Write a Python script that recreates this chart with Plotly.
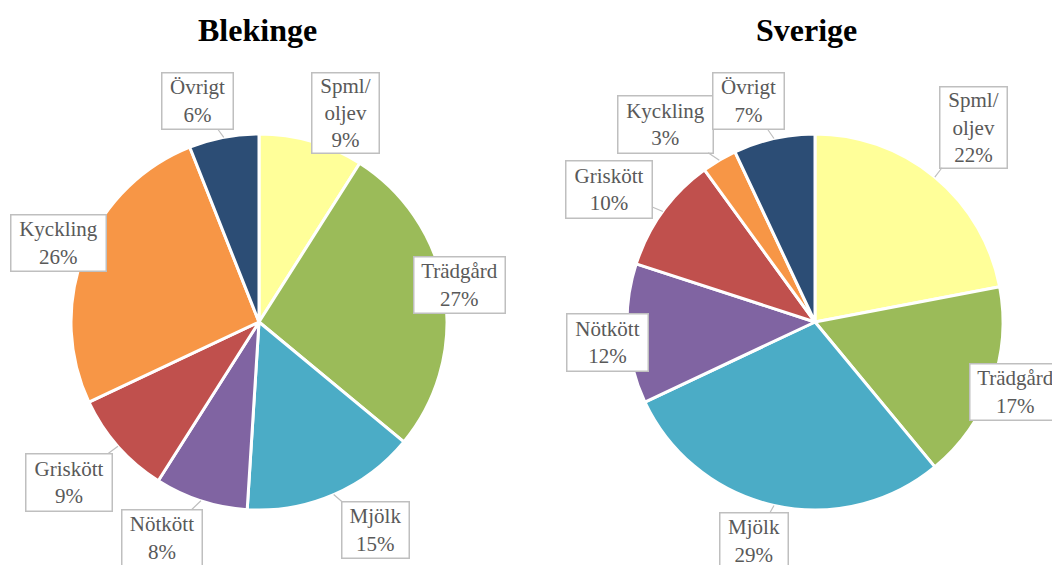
import math
import plotly.graph_objects as go

# ---------------- data ----------------
categories = ["Spml/<br>oljev", "Trädgård", "Mjölk", "Nötkött", "Griskött", "Kyckling", "Övrigt"]
blekinge = [9, 27, 15, 8, 9, 26, 6]
sverige = [22, 17, 29, 12, 10, 3, 7]
titles = ["Blekinge", "Sverige"]

# ---------------- styling / layout ----------------
colors = ["#FFFF99", "#9BBB59", "#4BACC6", "#8064A2", "#C0504D", "#F79646", "#2C4D75"]
W, H = 1052, 565
R = 188
centers = [(259, 322), (815, 322)]
title_pos = [(257, 30), (806, 30)]

# label box centres (px), box sizes (px), whether a leader line is drawn
label_boxes = [
    [(345, 113), (459, 285), (375, 530), (162, 538), (69, 482), (58, 243), (197, 101)],
    [(973, 127), (1015, 392), (754, 541), (607, 342), (609, 189), (665, 124), (748, 101)],
]
box_sizes = [
    [(68, 81), (92, 57), (68, 57), (81, 57), (87, 58), (96, 57), (72, 57)],
    [(68, 82), (92, 57), (69, 57), (82, 58), (87, 58), (96, 58), (72, 57)],
]
leaders = [
    [False, False, True, True, True, False, True],
    [True, False, True, False, True, True, True],
]

FONT = "Liberation Serif, Times New Roman, serif"
TXT = "#595959"
BORDER = "#BFBFBF"


def px(x):
    return x / W


def py(y):
    return 1 - y / H


fig = go.Figure()
annotations = []
for k, values in enumerate([blekinge, sverige]):
    cx, cy = centers[k]
    fig.add_trace(go.Pie(
        labels=[c.replace("<br>", "") for c in categories],
        values=values,
        sort=False,
        direction="clockwise",
        rotation=0,
        marker=dict(colors=colors, line=dict(color="white", width=3)),
        textinfo="none",
        hoverinfo="label+percent",
        showlegend=False,
        domain=dict(x=[px(cx - R), px(cx + R)], y=[py(cy + R), py(cy - R)]),
    ))
    annotations.append(dict(
        text="<b>%s</b>" % titles[k], x=px(title_pos[k][0]), y=py(title_pos[k][1]),
        xref="paper", yref="paper", showarrow=False,
        xanchor="center", yanchor="middle",
        font=dict(family=FONT, size=32, color="black"),
    ))
    total = sum(values)
    cum = 0
    for i, v in enumerate(values):
        frac = (cum + v / 2) / total
        cum += v
        th = 2 * math.pi * frac
        tx = cx + R * math.sin(th)
        ty = cy - R * math.cos(th)
        bx, by = label_boxes[k][i]
        bw, bh = box_sizes[k][i]
        text = "%s<br>%d%%" % (categories[i], round(100 * v / total))
        common = dict(
            text=text, xref="paper", yref="paper",
            font=dict(family=FONT, size=21, color=TXT),
            bgcolor="white", bordercolor=BORDER, borderwidth=1.5, borderpad=0,
            width=bw - 2, height=bh - 2, align="center", valign="middle",
        )
        if leaders[k][i]:
            annotations.append(dict(
                x=px(tx), y=py(ty), ax=bx - tx, ay=by - ty,
                showarrow=True, arrowhead=0, arrowwidth=1.2, arrowcolor=BORDER,
                standoff=0, **common,
            ))
        else:
            annotations.append(dict(x=px(bx), y=py(by), showarrow=False,
                                    xanchor="center", yanchor="middle", **common))

fig.update_layout(
    width=W, height=H,
    margin=dict(l=0, r=0, t=0, b=0),
    paper_bgcolor="white", plot_bgcolor="white",
    annotations=annotations,
)

fig.write_html(
    "out.html",
    config={"displayModeBar": False},
    post_script="document.body.style.margin='0';document.body.style.overflow='hidden';",
)
